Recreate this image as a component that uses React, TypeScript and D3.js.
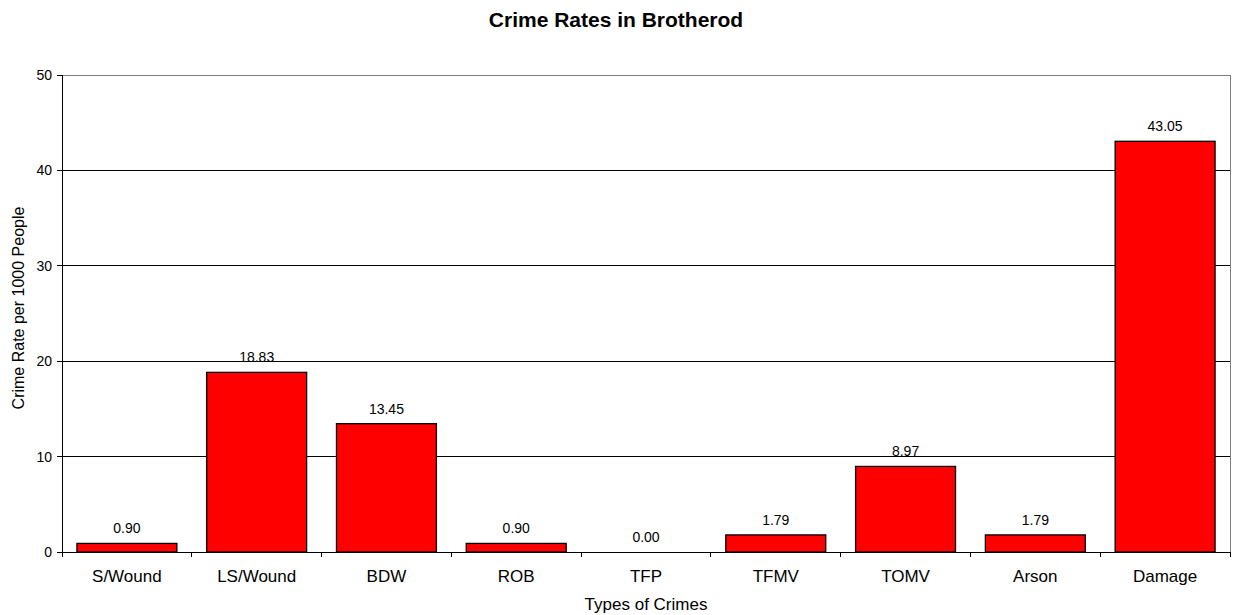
import React from "react";
import * as d3 from "d3";

const categories = ["S/Wound", "LS/Wound", "BDW", "ROB", "TFP", "TFMV", "TOMV", "Arson", "Damage"];
const values = [0.9, 18.83, 13.45, 0.9, 0.0, 1.79, 8.97, 1.79, 43.05];
const yTicks = [0, 10, 20, 30, 40, 50];

export default function App() {
  const W = 1239, H = 615;
  const left = 62, right = 1230, top = 75, bottom = 552;
  const x = d3.scaleBand<string>().domain(categories).range([left, right]).paddingInner(0.23).paddingOuter(0.115);
  const xb = d3.scaleBand<string>().domain(categories).range([left, right]);
  const y = d3.scaleLinear().domain([0, 50]).range([bottom, top]);
  const font = "'Liberation Sans', Arial, sans-serif";
  return (
    <svg width={W} height={H} style={{ position: "absolute", left: 0, top: 0 }} fontFamily={font}>
      <rect x={0} y={0} width={W} height={H} fill="#fff" />
      <text x={616} y={27} textAnchor="middle" fontSize={21} fontWeight="bold">Crime Rates in Brotherod</text>
      {yTicks.filter(t => t > 0 && t < 50).map(t => (
        <line key={t} x1={left} x2={right} y1={y(t)} y2={y(t)} stroke="#000" strokeWidth={1} shapeRendering="crispEdges" />
      ))}
      <line x1={left} x2={right} y1={top} y2={top} stroke="#808080" shapeRendering="crispEdges" />
      <line x1={right} x2={right} y1={top} y2={bottom} stroke="#808080" shapeRendering="crispEdges" />
      {categories.map((c, i) => (
        <g key={c}>
          <rect x={x(c)} y={y(values[i])} width={x.bandwidth()} height={bottom - y(values[i])} fill="#ff0000" stroke="#000" strokeWidth={1.3} />
          <text x={x(c)! + x.bandwidth() / 2} y={y(values[i]) - 10} textAnchor="middle" fontSize={14}>{values[i].toFixed(2)}</text>
          <text x={xb(c)! + xb.bandwidth() / 2} y={582} textAnchor="middle" fontSize={17}>{c}</text>
        </g>
      ))}
      <line x1={left} x2={left} y1={top} y2={bottom} stroke="#000" shapeRendering="crispEdges" />
      <line x1={left} x2={right} y1={bottom} y2={bottom} stroke="#000" shapeRendering="crispEdges" />
      {yTicks.map(t => (
        <g key={t}>
          <line x1={left - 5} x2={left} y1={y(t)} y2={y(t)} stroke="#000" shapeRendering="crispEdges" />
          <text x={left - 10} y={y(t) + 5} textAnchor="end" fontSize={14}>{t}</text>
        </g>
      ))}
      {[...categories.map(c => xb(c)!), right].map((v, i) => (
        <line key={i} x1={v} x2={v} y1={bottom} y2={bottom + 5} stroke="#000" shapeRendering="crispEdges" />
      ))}
      <text x={(left + right) / 2} y={610} textAnchor="middle" fontSize={17}>Types of Crimes</text>
      <text transform={`translate(24, ${308}) rotate(-90)`} textAnchor="middle" fontSize={16}>Crime Rate per 1000 People</text>
    </svg>
  );
}
